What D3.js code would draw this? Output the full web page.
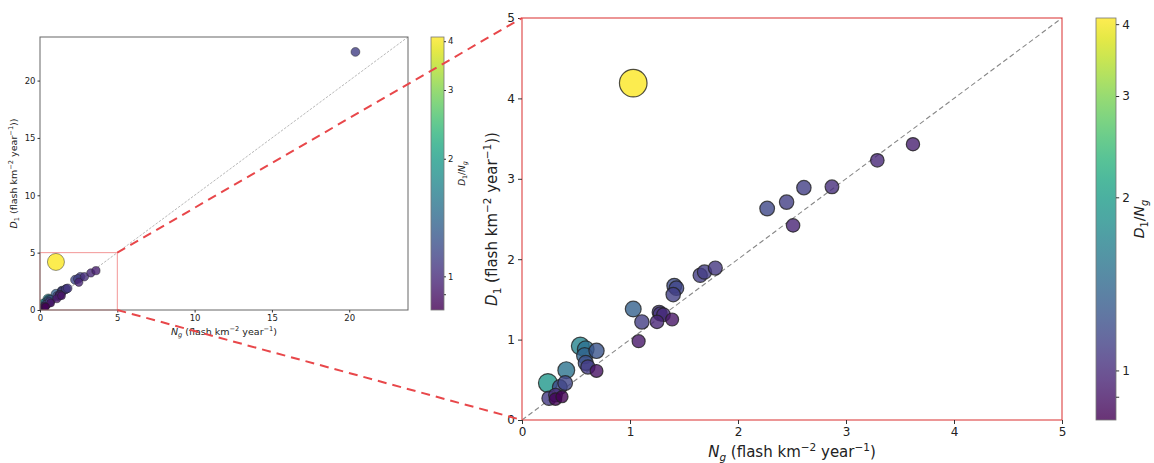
<!DOCTYPE html>
<html>
<head>
<meta charset="utf-8">
<script src="https://cdn.jsdelivr.net/npm/d3@7"></script>
<style>
  body { margin: 0; background: #fff; }
  text { font-family: "DejaVu Sans", sans-serif; fill: #222; }
</style>
</head>
<body>
<script>
// lightning density per site
const ng = [0.24, 0.41, 0.40, 0.35, 0.31, 0.25, 0.31, 0.37,
	0.54, 0.59, 0.69, 0.58, 0.59, 0.61, 0.69,
	1.03, 1.11, 1.08, 1.27, 1.28, 1.25, 1.31, 1.39, 1.41, 1.43, 1.40,
	1.65, 1.69, 1.79, 2.27, 2.45, 2.61, 2.87, 2.51, 3.29, 3.62,
	1.03, 20.4];
const d1 = [0.46, 0.62, 0.46, 0.41, 0.31, 0.27, 0.26, 0.29,
	0.92, 0.88, 0.86, 0.80, 0.71, 0.66, 0.61,
	1.38, 1.22, 0.98, 1.34, 1.32, 1.22, 1.31, 1.25, 1.67, 1.64, 1.56,
	1.80, 1.84, 1.89, 2.63, 2.71, 2.89, 2.90, 2.42, 3.23, 3.43,
	4.19, 22.5];
const cbTicks = [0.9, 1, 2, 3, 4];
const zoomTicks = [0, 1, 2, 3, 4, 5];
const fullTicks = [0, 5, 10, 15, 20];

const points = ng.map((n, i) => ({ n: n, d: d1[i], r: d1[i] / n }));
points.sort((a, b) => b.r - a.r);

const svg = d3.select("body").append("svg")
	.attr("width", 1154)
	.attr("height", 463);

const color = d3.scaleSequentialLog(d3.interpolateViridis).domain([0.82, 4.1]);

// gradient for colorbars
const grad = svg.append("defs").append("linearGradient")
	.attr("id", "cbgrad")
	.attr("x1", 0).attr("y1", 1).attr("x2", 0).attr("y2", 0);
d3.range(0, 1.0001, 0.05).forEach(t => {
	grad.append("stop")
		.attr("offset", t)
		.attr("stop-color", d3.interpolateViridis(t));
});

// math style label: [text, style]
function mathLabel(sel, parts, size) {
	let shift = 0;
	parts.forEach(([txt, st]) => {
		let target = 0;
		if (st.includes("sub")) target = size * 0.25;
		if (st.includes("sup")) target = -size * 0.38;
		sel.append("tspan")
			.attr("dy", target - shift)
			.style("font-size", (st.includes("sub") || st.includes("sup")) ? size * 0.7 + "px" : size + "px")
			.style("font-style", st.includes("i") ? "italic" : "normal")
			.text(txt);
		shift = target;
	});
}

const xLabel = [["N", "i"], ["g", "sub i"], [" (flash km", ""], ["\u22122", "sup"], [" year", ""], ["\u22121", "sup"], [")", ""]];
const yLabel = [["D", "i"], ["1", "sub"], [" (flash km", ""], ["\u22122", "sup"], [" year", ""], ["\u22121", "sup"], ["))", ""]];
const cbLabel = [["D", "i"], ["1", "sub"], ["/", ""], ["N", "i"], ["g", "sub i"]];

function styleAxis(g, fs) {
	g.select(".domain").remove();
	g.selectAll(".tick line").attr("stroke", "#333");
	g.selectAll(".tick text").style("font-size", fs + "px").attr("fill", "#222");
}

function drawChart(cfg) {
	const x = d3.scaleLinear().domain(cfg.dom).range([cfg.x0, cfg.x1]);
	const y = d3.scaleLinear().domain(cfg.dom).range([cfg.y0, cfg.y1]);
	const g = svg.append("g");

	const clipId = "clip" + cfg.id;
	svg.select("defs").append("clipPath").attr("id", clipId)
		.append("rect")
		.attr("x", cfg.x0).attr("y", cfg.y1)
		.attr("width", cfg.x1 - cfg.x0).attr("height", cfg.y0 - cfg.y1);

	const inner = g.append("g").attr("clip-path", `url(#${clipId})`);

	inner.append("line")
		.attr("x1", x(cfg.dom[0])).attr("y1", y(cfg.dom[0]))
		.attr("x2", x(cfg.dom[1])).attr("y2", y(cfg.dom[1]))
		.attr("stroke", cfg.diagColor)
		.attr("stroke-width", cfg.diagW)
		.attr("stroke-dasharray", cfg.dash);

	inner.selectAll("circle")
		.data(points)
		.join("circle")
		.attr("cx", d => x(d.n))
		.attr("cy", d => y(d.d))
		.attr("r", d => cfg.rmax * Math.sqrt(d.r / 4.07))
		.attr("fill", d => color(d.r))
		.attr("fill-opacity", 0.8)
		.attr("stroke", "#222")
		.attr("stroke-opacity", 0.8)
		.attr("stroke-width", cfg.edge);

	if (cfg.box) {
		g.append("rect")
			.attr("x", x(0)).attr("y", y(cfg.box))
			.attr("width", x(cfg.box) - x(0)).attr("height", y(0) - y(cfg.box))
			.attr("fill", "none")
			.attr("stroke", "#e8403f")
			.attr("stroke-opacity", 0.55)
			.attr("stroke-width", 1);
	}

	g.append("rect")
		.attr("x", cfg.x0).attr("y", cfg.y1)
		.attr("width", cfg.x1 - cfg.x0).attr("height", cfg.y0 - cfg.y1)
		.attr("fill", "none")
		.attr("stroke", cfg.frame)
		.attr("stroke-width", cfg.frameW);

	g.append("g")
		.attr("transform", `translate(0,${cfg.y0})`)
		.call(d3.axisBottom(x).tickValues(cfg.ticks).tickSize(cfg.tickLen).tickPadding(cfg.pad).tickFormat(d3.format("d")))
		.call(a => styleAxis(a, cfg.fs));
	g.append("g")
		.attr("transform", `translate(${cfg.x0},0)`)
		.call(d3.axisLeft(y).tickValues(cfg.ticks).tickSize(cfg.tickLen).tickPadding(cfg.pad).tickFormat(d3.format("d")))
		.call(a => styleAxis(a, cfg.fs));

	mathLabel(g.append("text")
		.attr("x", (cfg.x0 + cfg.x1) / 2)
		.attr("y", cfg.xlabY)
		.attr("text-anchor", "middle"), xLabel, cfg.lfs);
	mathLabel(g.append("text")
		.attr("transform", `translate(${cfg.ylabX},${(cfg.y0 + cfg.y1) / 2}) rotate(-90)`)
		.attr("text-anchor", "middle"), yLabel, cfg.ylfs);

	// colorbar
	const cb = cfg.cb;
	const cy = d3.scaleLog().domain([0.82, 4.1]).range([cfg.y0, cfg.y1]);
	g.append("rect")
		.attr("x", cb.x).attr("y", cfg.y1)
		.attr("width", cb.w).attr("height", cfg.y0 - cfg.y1)
		.attr("fill", "url(#cbgrad)")
		.attr("fill-opacity", 0.8)
		.attr("stroke", "#777")
		.attr("stroke-width", 0.8);
	g.append("g")
		.attr("transform", `translate(${cb.x + cb.w},0)`)
		.call(d3.axisRight(cy).tickValues(cbTicks).tickSize(cfg.tickLen * 0.8).tickPadding(cfg.pad)
			.tickFormat(d => d < 1 ? "" : d))
		.call(a => styleAxis(a, cfg.fs));
	mathLabel(g.append("text")
		.attr("transform", `translate(${cb.labX},${(cfg.y0 + cfg.y1) / 2}) rotate(-90)`)
		.attr("text-anchor", "middle"), cbLabel, cb.lfs);

	return { x: x, y: y };
}

const left = drawChart({
	id: "L", dom: [0, 23.8], x0: 40, x1: 408, y0: 310, y1: 37,
	ticks: fullTicks, fs: 8.5, lfs: 9.5, ylfs: 9.5, tickLen: 2.5, pad: 2,
	diagColor: "#999", diagW: 0.7, dash: "2.5,1.5", rmax: 8.5, edge: 0.6,
	frame: "#666", frameW: 1, box: 5,
	xlabY: 335, ylabX: 17,
	cb: { x: 431, w: 13, labX: 465, lfs: 9 }
});

const right = drawChart({
	id: "R", dom: [0, 5], x0: 522, x1: 1062, y0: 420, y1: 18,
	ticks: zoomTicks, fs: 12, lfs: 15, ylfs: 15, tickLen: 4, pad: 3,
	diagColor: "#888", diagW: 1.1, dash: "5,3", rmax: 13.8, edge: 1.2,
	frame: "#e05050", frameW: 1.2, box: null,
	xlabY: 457, ylabX: 497,
	cb: { x: 1096, w: 20, labX: 1144, lfs: 14 }
});

// zoom connectors
const links = [[5, 5, 0, 5], [5, 0, 0, 0]];
svg.append("g").selectAll("line")
	.data(links)
	.join("line")
	.attr("x1", d => left.x(d[0]))
	.attr("y1", d => left.y(d[1]))
	.attr("x2", d => right.x(d[2]))
	.attr("y2", d => right.y(d[3]))
	.attr("stroke", "#e8474a")
	.attr("stroke-width", 2)
	.attr("stroke-dasharray", "9,6");
</script>
</body>
</html>
